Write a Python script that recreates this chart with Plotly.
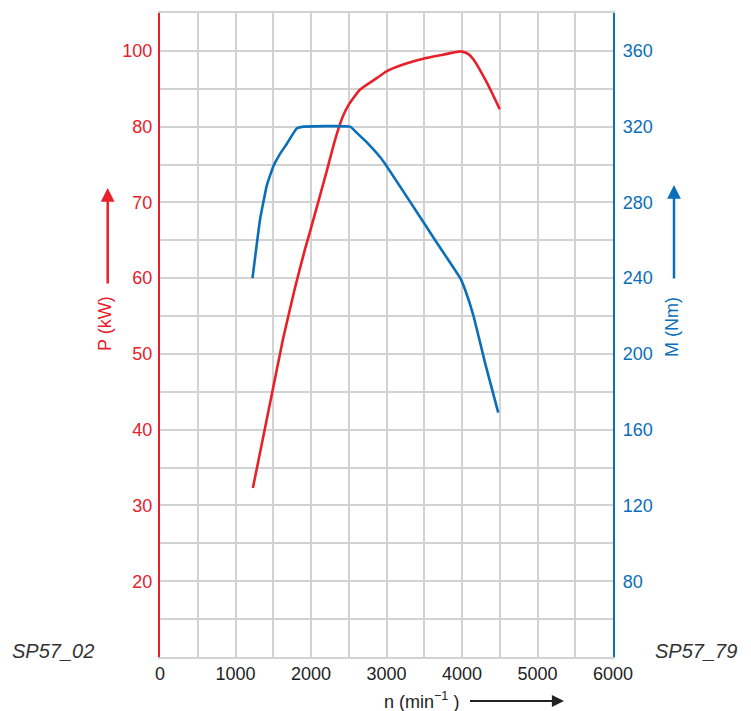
import plotly.graph_objects as go

# Engine speed (min^-1) and power curve (values on the drawn P scale)
n_power = [1230, 1480, 1630, 1790, 1920, 2000, 2100, 2210, 2300, 2360, 2420, 2500, 2650,
           2870, 3000, 3250, 3500, 3750, 3950, 4000, 4080, 4150, 4330, 4500]
p_kw = [32.3, 44.6, 52.0, 58.8, 63.8, 66.6, 70.2, 74.2, 77.6, 79.6, 81.3, 82.9, 84.9,
        86.4, 87.3, 88.3, 89.0, 89.5, 89.9, 89.9, 89.6, 88.9, 85.8, 82.3]

# Torque curve (Nm)
n_torque = [1225, 1325, 1415, 1500, 1580, 1680, 1810, 1900, 2520, 2600, 2740, 2920,
            3005, 3490, 3645, 3977, 4040, 4153, 4307, 4480]
m_nm = [240, 271, 289, 299, 305, 311, 319, 320, 320, 317, 311.7, 303.7,
        299, 269.5, 260, 240, 234, 220, 195, 169]

# Axis ticks
x_tick_vals = [0, 500, 1000, 1500, 2000, 2500, 3000, 3500, 4000, 4500, 5000, 5500, 6000]
x_tick_text = ["0", "", "1000", "", "2000", "", "3000", "", "4000", "", "5000", "", "6000"]
p_tick_vals = [20, 30, 40, 50, 60, 70, 80, 90]
p_tick_text = ["20", "30", "40", "50", "60", "70", "80", "100"]
m_tick_vals = [80, 120, 160, 200, 240, 280, 320, 360]

RED = "#e8202a"
BLUE = "#0a6eb8"
GRID = "#d2d2d2"
DARK = "#222222"
FONT = "Liberation Sans, Arial, sans-serif"

fig = go.Figure()
fig.add_trace(go.Scatter(x=n_torque, y=m_nm, mode="lines", yaxis="y2",
                         line=dict(color=BLUE, width=2.6, shape="spline", smoothing=0.3),
                         hoverinfo="skip"))
fig.add_trace(go.Scatter(x=n_power, y=p_kw, mode="lines", yaxis="y",
                         line=dict(color=RED, width=2.6, shape="spline", smoothing=0.5),
                         hoverinfo="skip"))

L, R, T, B = 160, 138, 13, 54
W, H = 751, 711
pw = W - L - R
ph = H - T - B


def px(xp):
    return (xp - L) / pw


def py(yp):
    return (H - B - yp) / ph


fig.update_layout(
    width=W, height=H,
    margin=dict(l=L, r=R, t=T, b=B),
    paper_bgcolor="white", plot_bgcolor="white",
    showlegend=False,
    font=dict(family=FONT, size=18, color=DARK),
    xaxis=dict(range=[0, 6000], tickvals=x_tick_vals, ticktext=x_tick_text,
               showgrid=True, gridcolor=GRID, gridwidth=1.6,
               showline=True, linecolor=GRID, linewidth=1.6, mirror=True,
               ticks="", tickfont=dict(color=DARK, size=18), zeroline=False),
    yaxis=dict(range=[10, 95], tickvals=p_tick_vals, ticktext=p_tick_text,
               showgrid=True, gridcolor=GRID, gridwidth=1.6,
               minor=dict(dtick=5, tick0=10, showgrid=True, gridcolor=GRID, gridwidth=1.6),
               showline=True, linecolor=RED, linewidth=2.2,
               ticks="outside", ticklen=2, tickcolor="rgba(0,0,0,0)",
               tickfont=dict(color=RED, size=18), zeroline=False),
    yaxis2=dict(range=[40, 380], tickvals=m_tick_vals, overlaying="y", side="right",
                showgrid=False, showline=True, linecolor=BLUE, linewidth=2.2,
                ticks="outside", ticklen=4, tickcolor="rgba(0,0,0,0)",
                tickfont=dict(color=BLUE, size=18), zeroline=False),
)

ann = []
# axis titles
ann.append(dict(text="P (kW)", x=px(105), y=py(324), xref="paper", yref="paper",
                showarrow=False, textangle=-90, font=dict(color=RED, size=18),
                xanchor="center", yanchor="middle"))
ann.append(dict(text="M (Nm)", x=px(672), y=py(327), xref="paper", yref="paper",
                showarrow=False, textangle=-90, font=dict(color=BLUE, size=18),
                xanchor="center", yanchor="middle"))
ann.append(dict(text="n (min<sup>\u22121</sup> )", x=px(421), y=py(700), xref="paper", yref="paper",
                showarrow=False, font=dict(color=DARK, size=18),
                xanchor="center", yanchor="middle"))
# arrows
ann.append(dict(text=" ", x=px(107.7), y=py(188), xref="paper", yref="paper",
                showarrow=True, ax=0, ay=107, arrowhead=2, arrowsize=1.1,
                arrowwidth=2.5, arrowcolor=RED, standoff=0))
ann.append(dict(text=" ", x=px(674), y=py(185), xref="paper", yref="paper",
                showarrow=True, ax=0, ay=105, arrowhead=2, arrowsize=1.1,
                arrowwidth=2.5, arrowcolor=BLUE, standoff=0))
ann.append(dict(text=" ", x=px(564), y=py(701), xref="paper", yref="paper",
                showarrow=True, ax=-98, ay=0, arrowhead=2, arrowsize=1.1,
                arrowwidth=2.2, arrowcolor=DARK, standoff=0))
# figure codes
ann.append(dict(text="<i>SP57_02</i>", x=px(52.5), y=py(651), xref="paper", yref="paper",
                showarrow=False, font=dict(color="#333333", size=20),
                xanchor="center", yanchor="middle"))
ann.append(dict(text="<i>SP57_79</i>", x=px(695.5), y=py(651), xref="paper", yref="paper",
                showarrow=False, font=dict(color="#333333", size=20),
                xanchor="center", yanchor="middle"))
fig.update_layout(annotations=ann)

fig.write_html("out.html", config={"displayModeBar": False},
               post_script="document.body.style.margin='0';document.body.style.overflow='hidden';")
